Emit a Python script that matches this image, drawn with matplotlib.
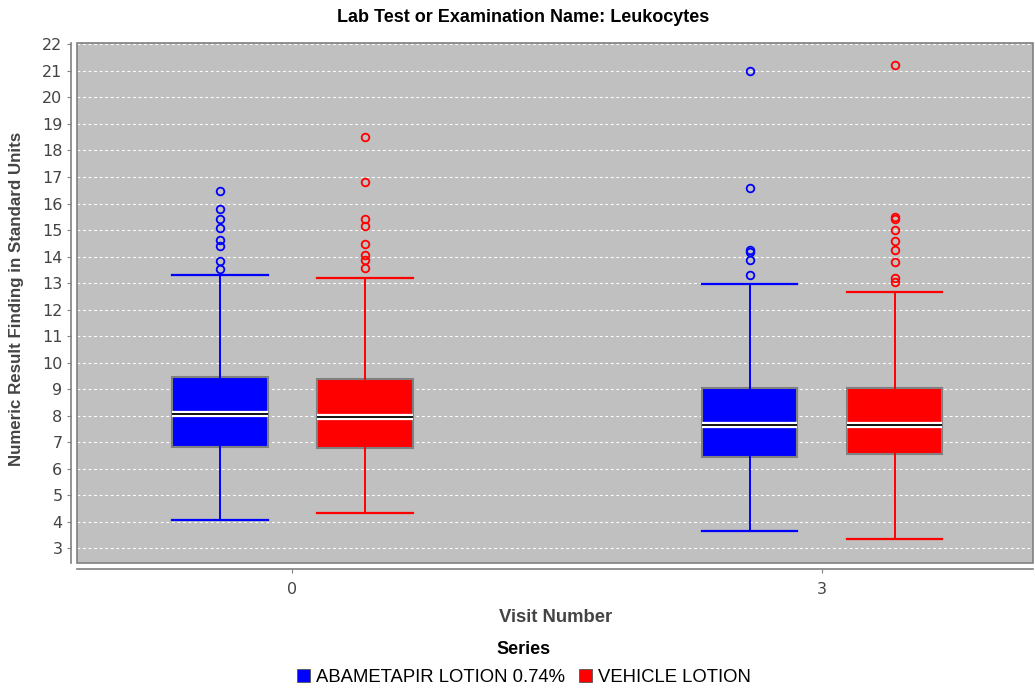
import numpy as np
import matplotlib
matplotlib.use("Agg")
import matplotlib.pyplot as plt
from matplotlib.patches import Rectangle, Patch
import matplotlib.patheffects as pe

# values
visits = ["0", "3"]
series = ["ABAMETAPIR LOTION 0.74%", "VEHICLE LOTION"]
colors = ["#0000FF", "#FF0000"]

abam_whislo = [4.07, 3.64]
abam_q1 = [6.83, 6.45]
abam_med = [8.07, 7.65]
abam_q3 = [9.47, 9.03]
abam_whishi = [13.29, 12.96]
abam_fliers = [
    [13.53, 13.82, 14.38, 14.64, 15.08, 15.42, 15.78, 16.49],
    [13.29, 13.88, 14.16, 14.26, 16.6, 20.98],
]

veh_whislo = [4.35, 3.37]
veh_q1 = [6.79, 6.55]
veh_med = [7.96, 7.65]
veh_q3 = [9.37, 9.03]
veh_whishi = [13.19, 12.68]
veh_fliers = [
    [13.57, 13.88, 14.07, 14.48, 15.16, 15.42, 16.82, 18.5],
    [13.06, 13.19, 13.78, 14.26, 14.6, 15.0, 15.4, 15.5, 21.21],
]

all_stats = [
    (abam_whislo, abam_q1, abam_med, abam_q3, abam_whishi, abam_fliers),
    (veh_whislo, veh_q1, veh_med, veh_q3, veh_whishi, veh_fliers),
]

W, H = 1035, 689
fig = plt.figure(figsize=(W / 100, H / 100), dpi=100)
ax = fig.add_axes([77 / W, 1 - 563 / H, (1033 - 77) / W, (563 - 43) / H])
ax.set_facecolor("#C0C0C0")

offsets = [-0.136, 0.138]
xpos = np.arange(len(visits))
for s, (lo, q1, med, q3, hi, fl) in enumerate(all_stats):
    stats = []
    for i in range(len(visits)):
        stats.append(dict(whislo=lo[i], q1=q1[i], med=med[i], q3=q3[i],
                          whishi=hi[i], fliers=fl[i]))
    c = colors[s]
    ax.bxp(stats, positions=xpos + offsets[s], widths=0.18,
           patch_artist=True, showfliers=True,
           boxprops=dict(facecolor=c, edgecolor="#808080", linewidth=1.5),
           whiskerprops=dict(color=c, linewidth=1.4),
           capprops=dict(color=c, linewidth=1.6),
           capwidths=0.18,
           medianprops=dict(color="black", linewidth=1.3,
                            path_effects=[pe.Stroke(linewidth=4.5, foreground="white"),
                                          pe.Normal()]),
           flierprops=dict(marker="o", markerfacecolor="none",
                           markeredgecolor=c, markersize=5.5,
                           markeredgewidth=1.3))

ax.set_xlim(-0.406, 1.399)
ax.set_ylim(2.45, 22.05)
ax.set_yticks(np.arange(3, 23))
ax.set_xticks(xpos)
ax.set_xticklabels(visits)
ax.yaxis.grid(True, color="white", linestyle=(0, (2.5, 2.5)), linewidth=0.8)
ax.set_axisbelow(True)

for side in ["top", "right"]:
    ax.spines[side].set_visible(False)
for side in ["left", "bottom"]:
    ax.spines[side].set_position(("outward", 4))
    ax.spines[side].set_color("#808080")
    ax.spines[side].set_linewidth(1.2)
ax.add_patch(Rectangle((0, 0), 1, 1, transform=ax.transAxes, fill=False,
                       edgecolor="#808080", linewidth=1.2, clip_on=False))

ax.tick_params(axis="both", colors="#808080", labelcolor="#444444",
               labelsize=11.5, length=3)
ax.tick_params(axis="x", pad=7)

fig.text(523 / W, 1 - 18 / H, "Lab Test or Examination Name: Leukocytes",
         ha="center", va="center", fontsize=13, fontweight="bold",
         family="Liberation Sans")
fig.text(17 / W, 1 - 299 / H, "Numeric Result Finding in Standard Units",
         ha="center", va="center", rotation=90, fontsize=12.2,
         fontweight="bold", color="#444444", family="Liberation Sans")
fig.text(556 / W, 1 - 618 / H, "Visit Number", ha="center", va="center",
         fontsize=13.3, fontweight="bold", color="#444444",
         family="Liberation Sans")
fig.text(524 / W, 1 - 650 / H, "Series", ha="center", va="center",
         fontsize=13, fontweight="bold", family="Liberation Sans")

handles = [Patch(facecolor=c, edgecolor="#555555", linewidth=0.6) for c in colors]
fig.legend(handles, series, loc="center", bbox_to_anchor=(524 / W, 1 - 677 / H),
           ncol=2, frameon=False, handlelength=0.7, handleheight=0.7,
           handletextpad=0.3, columnspacing=0.8,
           prop=dict(family="Liberation Sans", size=13.3))

fig.savefig("out.png", dpi=100)
